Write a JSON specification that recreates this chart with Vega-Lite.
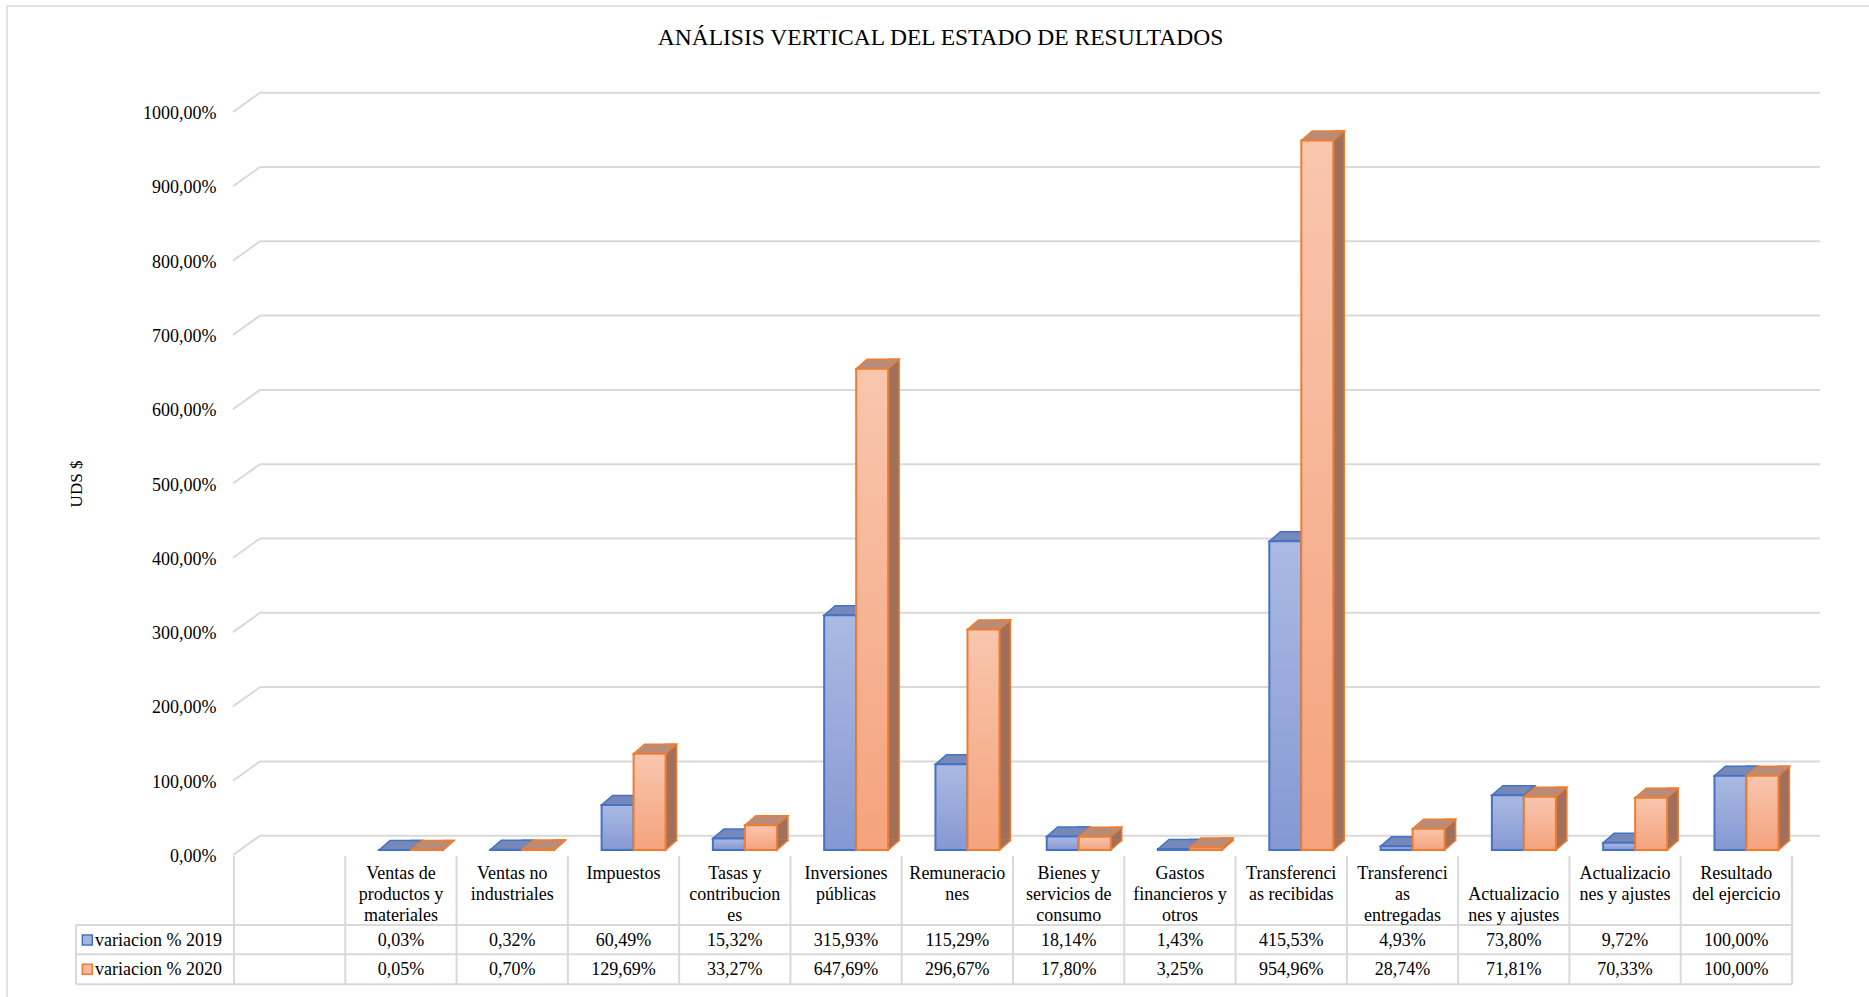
{
  "$schema": "https://vega.github.io/schema/vega-lite/v6.json",
  "autosize": {"type": "none"},
  "width": 1558,
  "height": 743,
  "padding": {"left": 234, "top": 112, "right": 77, "bottom": 142},
  "background": "white",
  "config": {
    "view": {"stroke": null},
    "locale": {"number": {"decimal": ",", "thousands": ".", "grouping": [3], "currency": ["", " $"]}},
    "text": {"font": "Liberation Serif", "fontSize": 18, "color": "#000000"},
    "axis": {
      "labelFont": "Liberation Serif",
      "labelFontSize": 18,
      "labelColor": "#000000",
      "titleFont": "Liberation Serif",
      "titleFontSize": 17,
      "titleFontWeight": "normal",
      "titleColor": "#000000"
    }
  },
  "datasets": {
    "escala": [{"v": 0}, {"v": 1}, {"v": 2}, {"v": 3}, {"v": 4}, {"v": 5}, {"v": 6}, {"v": 7}, {"v": 8}, {"v": 9}, {"v": 10}]
  },
  "data": {
    "values": [
      {"cat": " ", "serie": "variacion % 2019", "valor": null},
      {"cat": " ", "serie": "variacion % 2020", "valor": null},
      {"cat": "Ventas de\nproductos y\nmateriales", "serie": "variacion % 2019", "valor": 0.0003},
      {"cat": "Ventas de\nproductos y\nmateriales", "serie": "variacion % 2020", "valor": 0.0005},
      {"cat": "Ventas no\nindustriales", "serie": "variacion % 2019", "valor": 0.0032},
      {"cat": "Ventas no\nindustriales", "serie": "variacion % 2020", "valor": 0.0070},
      {"cat": "Impuestos", "serie": "variacion % 2019", "valor": 0.6049},
      {"cat": "Impuestos", "serie": "variacion % 2020", "valor": 1.2969},
      {"cat": "Tasas y\ncontribucion\nes", "serie": "variacion % 2019", "valor": 0.1532},
      {"cat": "Tasas y\ncontribucion\nes", "serie": "variacion % 2020", "valor": 0.3327},
      {"cat": "Inversiones\npúblicas", "serie": "variacion % 2019", "valor": 3.1593},
      {"cat": "Inversiones\npúblicas", "serie": "variacion % 2020", "valor": 6.4769},
      {"cat": "Remuneracio\nnes", "serie": "variacion % 2019", "valor": 1.1529},
      {"cat": "Remuneracio\nnes", "serie": "variacion % 2020", "valor": 2.9667},
      {"cat": "Bienes y\nservicios de\nconsumo", "serie": "variacion % 2019", "valor": 0.1814},
      {"cat": "Bienes y\nservicios de\nconsumo", "serie": "variacion % 2020", "valor": 0.1780},
      {"cat": "Gastos\nfinancieros y\notros", "serie": "variacion % 2019", "valor": 0.0143},
      {"cat": "Gastos\nfinancieros y\notros", "serie": "variacion % 2020", "valor": 0.0325},
      {"cat": "Transferenci\nas recibidas", "serie": "variacion % 2019", "valor": 4.1553},
      {"cat": "Transferenci\nas recibidas", "serie": "variacion % 2020", "valor": 9.5496},
      {"cat": "Transferenci\nas\nentregadas", "serie": "variacion % 2019", "valor": 0.0493},
      {"cat": "Transferenci\nas\nentregadas", "serie": "variacion % 2020", "valor": 0.2874},
      {"cat": "\nActualizacio\nnes y ajustes", "serie": "variacion % 2019", "valor": 0.7380},
      {"cat": "\nActualizacio\nnes y ajustes", "serie": "variacion % 2020", "valor": 0.7181},
      {"cat": "Actualizacio\nnes y ajustes", "serie": "variacion % 2019", "valor": 0.0972},
      {"cat": "Actualizacio\nnes y ajustes", "serie": "variacion % 2020", "valor": 0.7033},
      {"cat": "Resultado\ndel ejercicio", "serie": "variacion % 2019", "valor": 1.0},
      {"cat": "Resultado\ndel ejercicio", "serie": "variacion % 2020", "valor": 1.0}
    ]
  },
  "encoding": {
    "x": {
      "field": "cat",
      "type": "nominal",
      "axis": null,
      "scale": {
        "type": "band",
        "paddingInner": 0,
        "paddingOuter": 0,
        "domain": [" ", "Ventas de\nproductos y\nmateriales", "Ventas no\nindustriales", "Impuestos", "Tasas y\ncontribucion\nes", "Inversiones\npúblicas", "Remuneracio\nnes", "Bienes y\nservicios de\nconsumo", "Gastos\nfinancieros y\notros", "Transferenci\nas recibidas", "Transferenci\nas\nentregadas", "\nActualizacio\nnes y ajustes", "Actualizacio\nnes y ajustes", "Resultado\ndel ejercicio"]
      }
    }
  },
  "layer": [
    {
      "data": {"name": "escala"},
      "mark": {"type": "rule", "color": "#d9d9d9", "strokeWidth": 2, "xOffset": 26, "x2Offset": 28, "yOffset": -19.3},
      "encoding": {
        "x": {"datum": " ", "type": "nominal", "bandPosition": 0, "axis": null},
        "x2": {"datum": "Resultado\ndel ejercicio", "bandPosition": 1},
        "y": {
          "field": "v",
          "type": "quantitative",
          "scale": {"domain": [0, 10], "nice": false, "zero": true},
          "axis": {
            "values": [0, 1, 2, 3, 4, 5, 6, 7, 8, 9, 10],
            "format": ".2%",
            "grid": false,
            "domain": false,
            "ticks": false,
            "labelPadding": 18,
            "labelFont": "Liberation Serif",
            "labelFontSize": 18,
            "labelColor": "#000000",
            "labelOffset": 1.5,
            "title": "UDS $",
            "titleFont": "Liberation Serif",
            "titleFontSize": 17,
            "titleFontWeight": "normal",
            "titleColor": "#000000",
            "titlePadding": 57
          }
        }
      }
    },
    {
      "data": {"values": [{}]},
      "mark": {"type": "rect", "fillOpacity": 0, "stroke": "#d9d9d9", "strokeWidth": 1.5, "xOffset": -227, "x2Offset": 100, "yOffset": -106, "y2Offset": 200},
      "encoding": {
        "x": {"datum": " ", "type": "nominal", "bandPosition": 0, "axis": null},
        "x2": {"datum": "Resultado\ndel ejercicio", "bandPosition": 1},
        "y": {"datum": 10, "type": "quantitative"},
        "y2": {"datum": 0}
      }
    },
    {
      "data": {"values": [{"titulo": "ANÁLISIS VERTICAL DEL ESTADO DE RESULTADOS"}]},
      "mark": {"type": "text", "fontSize": 23.5, "align": "center", "baseline": "alphabetic", "xOffset": 706.5, "yOffset": -67},
      "encoding": {
        "x": {"datum": " ", "type": "nominal", "bandPosition": 0, "axis": null},
        "y": {"datum": 10, "type": "quantitative"},
        "text": {"field": "titulo"}
      }
    },
    {
      "data": {"name": "escala"},
      "mark": {"type": "rule", "color": "#d9d9d9", "strokeWidth": 2, "xOffset": -1, "x2Offset": 26, "y2Offset": -19.3},
      "encoding": {
        "x": {"datum": " ", "type": "nominal", "bandPosition": 0, "axis": null},
        "x2": {"datum": " ", "bandPosition": 0},
        "y": {"field": "v", "type": "quantitative"},
        "y2": {"field": "v"}
      }
    },
    {
      "transform": [{"filter": "datum.serie === 'variacion % 2019'"}],
      "mark": {"type": "rule", "color": "#d9d9d9", "strokeWidth": 2, "yOffset": 1, "y2Offset": 129.3},
      "encoding": {
        "x": {"field": "cat", "type": "nominal", "bandPosition": 0, "axis": null},
        "y": {"datum": 0, "type": "quantitative"},
        "y2": {"datum": 0}
      }
    },
    {
      "data": {"values": [{}]},
      "mark": {"type": "rule", "color": "#d9d9d9", "strokeWidth": 2, "yOffset": 1, "y2Offset": 129.3},
      "encoding": {
        "x": {"datum": "Resultado\ndel ejercicio", "type": "nominal", "bandPosition": 1, "axis": null},
        "y": {"datum": 0, "type": "quantitative"},
        "y2": {"datum": 0}
      }
    },
    {
      "data": {"values": [{}]},
      "mark": {"type": "rule", "color": "#d9d9d9", "strokeWidth": 2, "xOffset": -158, "yOffset": 70, "y2Offset": 129.3},
      "encoding": {
        "x": {"datum": " ", "type": "nominal", "bandPosition": 0, "axis": null},
        "y": {"datum": 0, "type": "quantitative"},
        "y2": {"datum": 0}
      }
    },
    {
      "data": {"values": [{}]},
      "mark": {"type": "rule", "color": "#d9d9d9", "strokeWidth": 2, "xOffset": -158, "yOffset": 70},
      "encoding": {
        "x": {"datum": " ", "type": "nominal", "bandPosition": 0, "axis": null},
        "x2": {"datum": "Resultado\ndel ejercicio", "bandPosition": 1},
        "y": {"datum": 0, "type": "quantitative"}
      }
    },
    {
      "data": {"values": [{}]},
      "mark": {"type": "rule", "color": "#d9d9d9", "strokeWidth": 2, "xOffset": -158, "yOffset": 99.3},
      "encoding": {
        "x": {"datum": " ", "type": "nominal", "bandPosition": 0, "axis": null},
        "x2": {"datum": "Resultado\ndel ejercicio", "bandPosition": 1},
        "y": {"datum": 0, "type": "quantitative"}
      }
    },
    {
      "data": {"values": [{}]},
      "mark": {"type": "rule", "color": "#d9d9d9", "strokeWidth": 2, "xOffset": -158, "yOffset": 129.3},
      "encoding": {
        "x": {"datum": " ", "type": "nominal", "bandPosition": 0, "axis": null},
        "x2": {"datum": "Resultado\ndel ejercicio", "bandPosition": 1},
        "y": {"datum": 0, "type": "quantitative"}
      }
    },
    {
      "transform": [{"filter": "datum.serie === 'variacion % 2019'"}],
      "mark": {"type": "text", "align": "center", "baseline": "alphabetic", "lineBreak": "\n", "lineHeight": 21, "yOffset": 24},
      "encoding": {
        "y": {"datum": 0, "type": "quantitative"},
        "text": {"field": "cat"}
      }
    },
    {
      "transform": [{"filter": "datum.serie === 'variacion % 2019' && isValid(datum.valor)"}],
      "mark": {"type": "text", "align": "center", "baseline": "alphabetic", "yOffset": 91},
      "encoding": {
        "y": {"datum": 0, "type": "quantitative"},
        "text": {"field": "valor", "type": "quantitative", "format": ".2%"}
      }
    },
    {
      "transform": [{"filter": "datum.serie === 'variacion % 2020' && isValid(datum.valor)"}],
      "mark": {"type": "text", "align": "center", "baseline": "alphabetic", "yOffset": 120.3},
      "encoding": {
        "y": {"datum": 0, "type": "quantitative"},
        "text": {"field": "valor", "type": "quantitative", "format": ".2%"}
      }
    },
    {
      "transform": [{"filter": "datum.cat === ' ' && datum.serie === 'variacion % 2019'"}],
      "mark": {"type": "point", "shape": "square", "size": 100, "filled": true, "opacity": 1, "fill": "#a6b5df", "stroke": "#4472c4", "strokeWidth": 1.5, "xOffset": -146.7, "yOffset": 85},
      "encoding": {
        "x": {"field": "cat", "type": "nominal", "bandPosition": 0, "axis": null},
        "y": {"datum": 0, "type": "quantitative"}
      }
    },
    {
      "transform": [{"filter": "datum.cat === ' ' && datum.serie === 'variacion % 2020'"}],
      "mark": {"type": "point", "shape": "square", "size": 100, "filled": true, "opacity": 1, "fill": "#f7b89b", "stroke": "#ed7d31", "strokeWidth": 1.5, "xOffset": -146.7, "yOffset": 114.3},
      "encoding": {
        "x": {"field": "cat", "type": "nominal", "bandPosition": 0, "axis": null},
        "y": {"datum": 0, "type": "quantitative"}
      }
    },
    {
      "transform": [{"filter": "datum.cat === ' ' && datum.serie === 'variacion % 2019'"}],
      "mark": {"type": "text", "align": "left", "baseline": "alphabetic", "xOffset": -139, "yOffset": 91},
      "encoding": {
        "x": {"field": "cat", "type": "nominal", "bandPosition": 0, "axis": null},
        "y": {"datum": 0, "type": "quantitative"},
        "text": {"field": "serie"}
      }
    },
    {
      "transform": [{"filter": "datum.cat === ' ' && datum.serie === 'variacion % 2020'"}],
      "mark": {"type": "text", "align": "left", "baseline": "alphabetic", "xOffset": -139, "yOffset": 120.3},
      "encoding": {
        "x": {"field": "cat", "type": "nominal", "bandPosition": 0, "axis": null},
        "y": {"datum": 0, "type": "quantitative"},
        "text": {"field": "serie"}
      }
    },
    {
      "transform": [{"filter": "datum.serie === 'variacion % 2019' && isValid(datum.valor)"}],
      "mark": {"type": "bar", "width": 11, "fill": "#5b6fa6", "stroke": "#4472c4", "strokeWidth": 1.5, "xOffset": 15.6, "yOffset": -14.5, "y2Offset": -14.5},
      "encoding": {
        "y": {"field": "valor", "type": "quantitative"},
        "y2": {"datum": 0}
      }
    },
    {
      "transform": [{"filter": "datum.serie === 'variacion % 2019' && isValid(datum.valor)"}],
      "mark": {"type": "point", "shape": "M0.2558,-0.2326L0.2558,-0.2093L-0.2558,0.2326L-0.2558,-0.2326", "size": 1849, "filled": true, "opacity": 1, "fill": "#5b6fa6", "stroke": "#4472c4", "strokeWidth": 1.5, "xOffset": 15.6, "yOffset": -10},
      "encoding": {
        "y": {"datum": 0, "type": "quantitative"}
      }
    },
    {
      "transform": [{"filter": "datum.serie === 'variacion % 2019' && isValid(datum.valor)"}],
      "mark": {"type": "point", "shape": "M-1,0.2209L0.4884,0.2209L1,-0.2209L-0.4884,-0.2209Z", "size": 1849, "filled": true, "opacity": 1, "fill": "#7688b9", "stroke": "#4472c4", "strokeWidth": 1.5, "xOffset": -0.4, "yOffset": -9.75},
      "encoding": {
        "y": {"field": "valor", "type": "quantitative"}
      }
    },
    {
      "transform": [{"filter": "datum.serie === 'variacion % 2019' && isValid(datum.valor)"}],
      "mark": {
        "type": "bar",
        "width": 32,
        "fill": {"gradient": "linear", "x1": 0, "y1": 0, "x2": 0, "y2": 1, "stops": [{"offset": 0, "color": "#abbae3"}, {"offset": 1, "color": "#8698d3"}]},
        "stroke": "#4472c4",
        "strokeWidth": 2,
        "xOffset": -5.9,
        "yOffset": -5,
        "y2Offset": -5
      },
      "encoding": {
        "y": {"field": "valor", "type": "quantitative"},
        "y2": {"datum": 0}
      }
    },
    {
      "transform": [{"filter": "datum.serie === 'variacion % 2020' && isValid(datum.valor)"}],
      "mark": {"type": "bar", "width": 11, "fill": "#a0705c", "stroke": "#ed7d31", "strokeWidth": 1.5, "xOffset": 47.6, "yOffset": -14.5, "y2Offset": -14.5},
      "encoding": {
        "y": {"field": "valor", "type": "quantitative"},
        "y2": {"datum": 0}
      }
    },
    {
      "transform": [{"filter": "datum.serie === 'variacion % 2020' && isValid(datum.valor)"}],
      "mark": {"type": "point", "shape": "M0.2558,-0.2326L0.2558,-0.2093L-0.2558,0.2326L-0.2558,-0.2326", "size": 1849, "filled": true, "opacity": 1, "fill": "#a0705c", "stroke": "#ed7d31", "strokeWidth": 1.5, "xOffset": 47.6, "yOffset": -10},
      "encoding": {
        "y": {"datum": 0, "type": "quantitative"}
      }
    },
    {
      "transform": [{"filter": "datum.serie === 'variacion % 2020' && isValid(datum.valor)"}],
      "mark": {"type": "point", "shape": "M-1,0.2209L0.4884,0.2209L1,-0.2209L-0.4884,-0.2209Z", "size": 1849, "filled": true, "opacity": 1, "fill": "#ba8c78", "stroke": "#ed7d31", "strokeWidth": 1.5, "xOffset": 31.6, "yOffset": -9.75},
      "encoding": {
        "y": {"field": "valor", "type": "quantitative"}
      }
    },
    {
      "transform": [{"filter": "datum.serie === 'variacion % 2020' && isValid(datum.valor)"}],
      "mark": {
        "type": "bar",
        "width": 32,
        "fill": {"gradient": "linear", "x1": 0, "y1": 0, "x2": 0, "y2": 1, "stops": [{"offset": 0, "color": "#f9c6ae"}, {"offset": 1, "color": "#f4a37d"}]},
        "stroke": "#ed7d31",
        "strokeWidth": 2,
        "xOffset": 26.1,
        "yOffset": -5,
        "y2Offset": -5
      },
      "encoding": {
        "y": {"field": "valor", "type": "quantitative"},
        "y2": {"datum": 0}
      }
    }
  ]
}
